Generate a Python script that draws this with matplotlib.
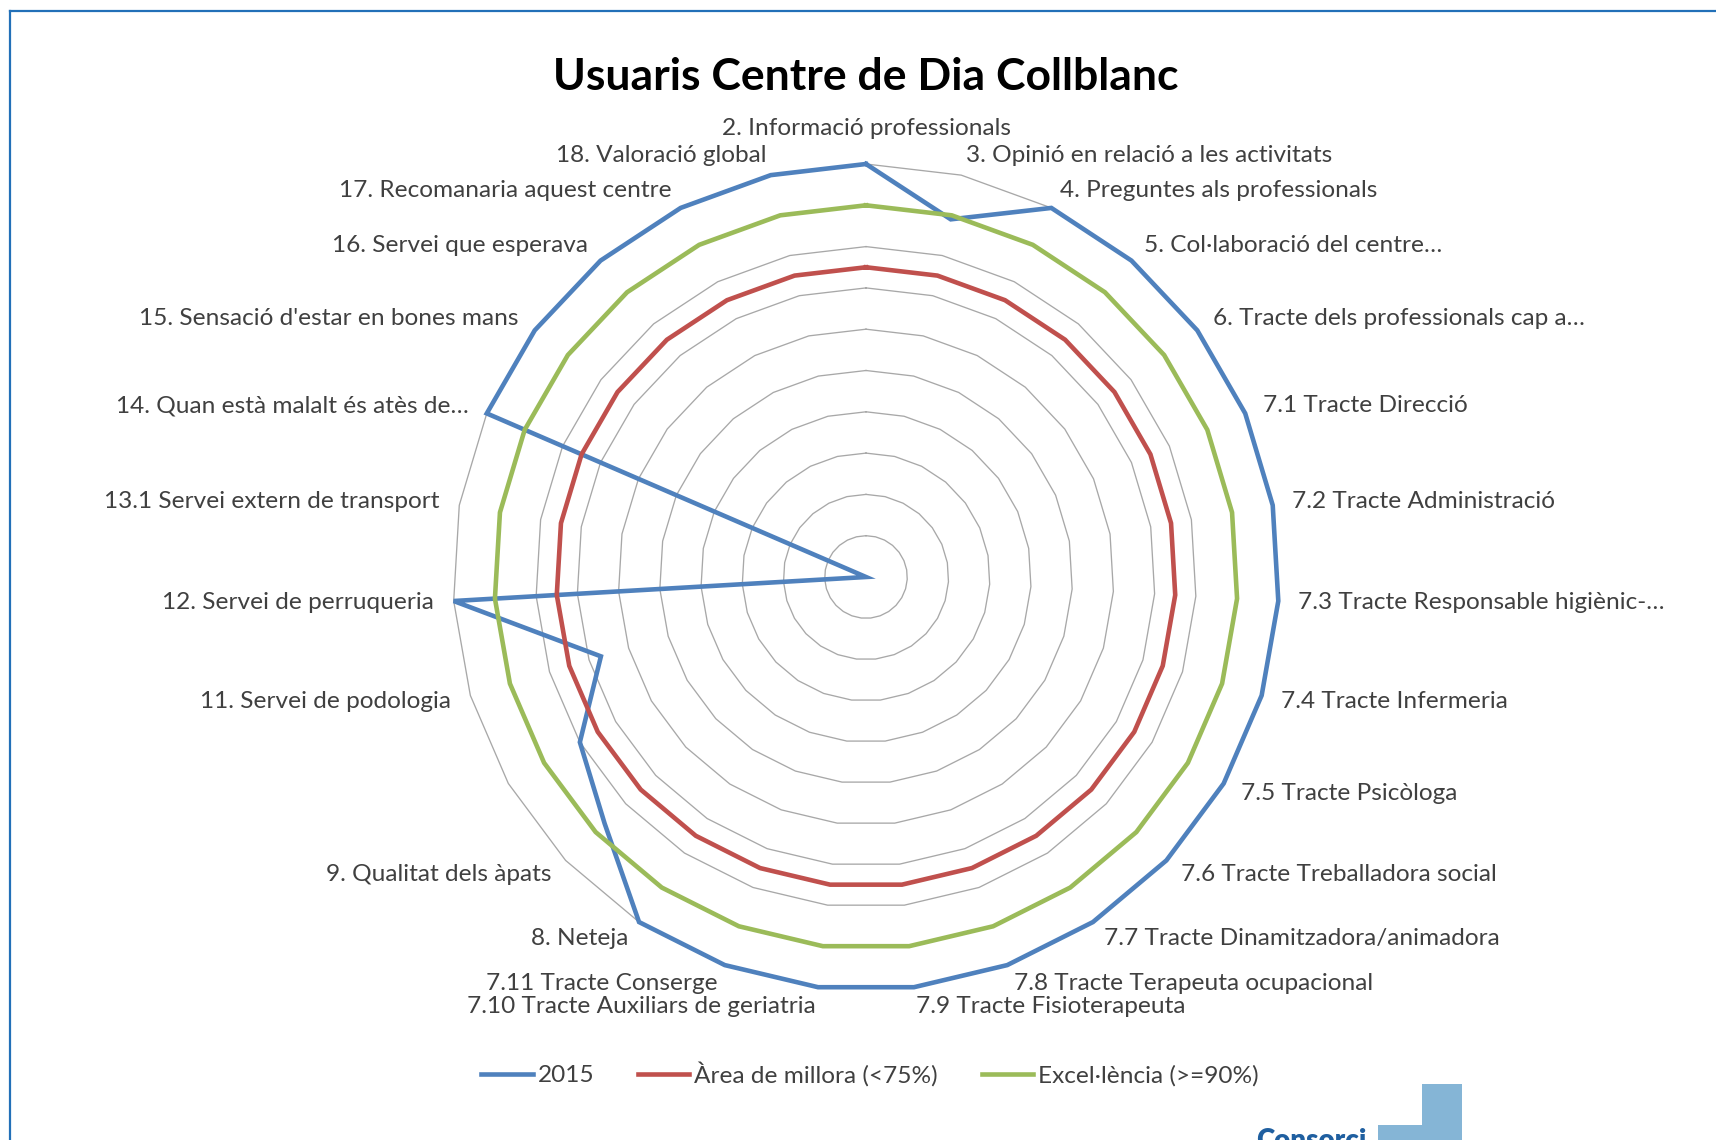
import numpy as np
import matplotlib.pyplot as plt
from matplotlib.lines import Line2D
from matplotlib.patches import Rectangle

plt.rcParams['font.family'] = ['Lato', 'DejaVu Sans']

# --- Data ---
title = "Usuaris Centre de Dia Collblanc"
categories = [
    "2. Informació professionals",
    "3. Opinió en relació a les activitats",
    "4. Preguntes als professionals",
    "5. Col·laboració del centre…",
    "6. Tracte dels professionals cap a…",
    "7.1 Tracte Direcció",
    "7.2 Tracte Administració",
    "7.3 Tracte Responsable higiènic-…",
    "7.4 Tracte Infermeria",
    "7.5 Tracte Psicòloga",
    "7.6 Tracte Treballadora social",
    "7.7 Tracte Dinamitzadora/animadora",
    "7.8 Tracte Terapeuta ocupacional",
    "7.9 Tracte Fisioterapeuta",
    "7.10 Tracte Auxiliars de geriatria",
    "7.11 Tracte Conserge",
    "8. Neteja",
    "9. Qualitat dels àpats",
    "",
    "11. Servei de podologia",
    "12. Servei de perruqueria",
    "13.1 Servei extern de transport",
    "14. Quan està malalt és atès de…",
    "15. Sensació d'estar en bones mans",
    "16. Servei que esperava",
    "17. Recomanaria aquest centre",
    "18. Valoració global",
]
values_2015 = [1.0, 0.89, 1.0, 1.0, 1.0, 1.0, 1.0, 1.0, 1.0, 1.0, 1.0, 1.0, 1.0, 1.0,
               1.0, 1.0, 1.0, 0.87, 0.80, 0.67, 1.0, 0.0, 1.0, 1.0, 1.0, 1.0, 1.0]
area_millora = [0.75, 0.75, 0.75, 0.75, 0.75, 0.75, 0.75, 0.75, 0.75, 0.75, 0.75, 0.75, 0.75, 0.75,
                0.75, 0.75, 0.75, 0.75, 0.75, 0.75, 0.75, 0.75, 0.75, 0.75, 0.75, 0.75, 0.75]
excellencia = [0.9, 0.9, 0.9, 0.9, 0.9, 0.9, 0.9, 0.9, 0.9, 0.9, 0.9, 0.9, 0.9, 0.9,
               0.9, 0.9, 0.9, 0.9, 0.9, 0.9, 0.9, 0.9, 0.9, 0.9, 0.9, 0.9, 0.9]
series_names = ["2015", "Àrea de millora (<75%)", "Excel·lència (>=90%)"]
series_colors = ["#4F81BD", "#C0504D", "#9BBB59"]
ring_levels = [0.1, 0.2, 0.3, 0.4, 0.5, 0.6, 0.7, 0.8, 0.9, 1.0]

W, H = 1716, 1140
fig = plt.figure(figsize=(W / 100, H / 100), dpi=100)
fig.patch.set_facecolor("white")

# polar axes centred at (866, 577) px with radius 413 px
cx, cy, rad = 866, 577, 413
ax = fig.add_axes([(cx - rad) / W, (H - cy - rad) / H, 2 * rad / W, 2 * rad / H],
                  projection="polar")
ax.set_theta_zero_location("N")
ax.set_theta_direction(-1)
ax.set_ylim(0, 1)
ax.grid(False)
ax.set_xticks([])
ax.set_yticks([])
ax.spines["polar"].set_visible(False)
ax.patch.set_visible(False)

n = len(categories)
theta = np.arange(n) * 2 * np.pi / n
theta_closed = np.append(theta, theta[0])

# polygonal gridlines like Excel
for lvl in ring_levels:
    ax.plot(theta_closed, [lvl] * (n + 1), color="#A8A8A8", lw=0.95, clip_on=False, zorder=1)

# series
handles = []
for vals, name, col in zip([values_2015, area_millora, excellencia], series_names, series_colors):
    v = list(vals) + [vals[0]]
    ln, = ax.plot(theta_closed, v, color=col, lw=3.3, clip_on=False, zorder=3,
                  solid_joinstyle="miter", label=name)
    handles.append(ln)

# category labels
for t, lab in zip(theta, categories):
    deg = np.degrees(t)
    if deg < 1:
        ax.text(t, 1.087, lab, ha="center", va="center", fontsize=17.6, color="#404040")
    elif deg < 180:
        ax.text(t, 1.048, lab, ha="left", va="center", fontsize=17.6, color="#404040")
    else:
        ax.text(t, 1.048, lab, ha="right", va="center", fontsize=17.6, color="#404040")

# title
fig.text(866 / W, 1 - 77 / H, title, ha="center", va="center",
         fontsize=32, fontweight="bold", color="black")

# legend
fig.legend(handles, series_names, loc="center", bbox_to_anchor=(870 / W, 1 - 1074 / H),
           ncol=3, frameon=False, fontsize=17.6, handlelength=2.1, handletextpad=0.2,
           columnspacing=1.8, labelcolor="#404040")

# page border
fig.add_artist(Line2D([10 / W, 1], [1 - 11 / H, 1 - 11 / H], color="#2270B8", lw=1.6))
fig.add_artist(Line2D([10 / W, 10 / W], [0, 1 - 11 / H], color="#2270B8", lw=1.6))

# logo peeking in at the bottom
fig.add_artist(Rectangle((1422 / W, 0), 40 / W, 56 / H, transform=fig.transFigure,
                         color="#85B5D6", lw=0))
fig.add_artist(Rectangle((1378 / W, 0), 44 / W, 15 / H, transform=fig.transFigure,
                         color="#85B5D6", lw=0))
fig.text(1256 / W, -9 / H, "Consorci", ha="left", va="baseline", fontsize=20,
         fontweight="heavy", color="#1F5FA0")

fig.savefig("out.png", dpi=100)
